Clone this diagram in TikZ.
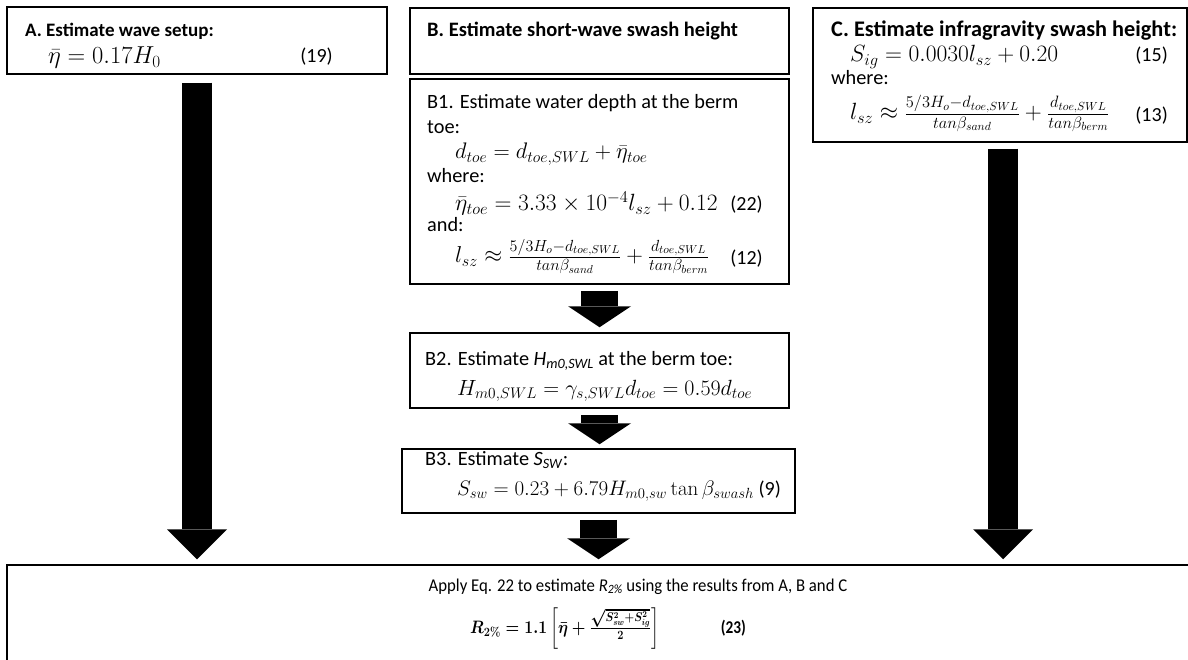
\RequirePackage{fix-cm}
\documentclass[tikz,border=0pt]{standalone}
\usepackage{amsmath}
\usepackage{graphicx}
\usepackage[no-math]{fontspec}
\setmainfont{Carlito}
\usetikzlibrary{arrows.meta,calc}
\newcommand{\fsz}[1]{\fontsize{#1}{#1}\selectfont}
\tikzset{
  box/.style={draw, line width=1.5pt, inner sep=0pt},
  txt/.style={anchor=base west, inner sep=0pt, font=\fsz{20.3}},
  eq/.style={anchor=base west, inner sep=0pt},
  eqno/.style={anchor=base east, inner sep=0pt, font=\fsz{20}},
  bigarrow/.style={line width=30pt, -{Triangle[width=60pt,length=30pt,line width=0pt]}},
  midarrow/.style={line width=37pt, -{Triangle[width=63pt,length=21pt,line width=0pt]}},
}
\begin{document}
\begin{tikzpicture}[x=1pt,y=-1pt]
\useasboundingbox (0,0) rectangle (1188,660);

% boxes
\node[box, minimum width=380pt, minimum height=67pt] (A) at (197,40.5) {};
\node[box, minimum width=379pt, minimum height=66pt] (B) at (599.5,41) {};
\node[box, minimum width=379pt, minimum height=205pt] (B1) at (599.5,181.5) {};
\node[box, minimum width=379pt, minimum height=75pt] (B2) at (599.5,370.5) {};
\node[box, minimum width=393pt, minimum height=64pt] (B3) at (598.5,481) {};
\node[box, minimum width=374pt, minimum height=134pt] (C) at (1000,75) {};
\node[box, minimum width=1188pt, minimum height=103pt] (F) at (601,616.5) {};

% box A
\node[txt, font=\fsz{19}] (ta) at (25,37) {\textbf{A. Estimate wave setup:}};
\node[eq, font=\fsz{24.5}] (ea) at (48,64) {$\bar{\eta} = 0.17H_0$};
\node[eqno] (na) at (333,63) {(19)};

% box B
\node[txt, font=\fsz{20.5}] (tb) at (427,37) {\textbf{B. Estimate short-wave swash height}};

% box B1
\node[txt] (tb1) at (427,109) {B1. Estimate water depth at the berm};
\node[txt] (tb1b) at (427,134) {toe:};
\node[eq, font=\fsz{22.5}] (eb1a) at (455,159) {$d_{toe} = d_{toe,SWL} + \bar{\eta}_{toe}$};
\node[txt] (tb1c) at (427,183) {where:};
\node[eq, font=\fsz{23.5}] (eb1b) at (455,211) {$\bar{\eta}_{toe} = 3.33\times 10^{-4} l_{sz} + 0.12$};
\node[eqno] (nb1b) at (763,211) {(22)};
\node[txt] (tb1d) at (427,232) {and:};
\node[eq, font=\fsz{23}] (eb1c) at (455,263) {$l_{sz} \approx \frac{5/3H_o - d_{toe,SWL}}{tan\beta_{sand}} + \frac{d_{toe,SWL}}{tan\beta_{berm}}$};
\node[eqno] (nb1c) at (763,265) {(12)};

% box B2
\node[txt] (tb2) at (425,365) {B2. Estimate \textit{H}\textsubscript{\textit{m0,SWL}} at the berm toe:};
\node[eq, font=\fsz{22}] (eb2) at (457,395) {$H_{m0,SWL} = \gamma_{s,SWL}d_{toe} = 0.59d_{toe}$};

% box B3
\node[txt] (tb3) at (425,465) {B3. Estimate \textit{S}\textsubscript{\textit{SW}}:};
\node[eq, font=\fsz{21}] (eb3) at (457,495) {$S_{sw} = 0.23 + 6.79H_{m0,sw}\tan\beta_{swash}$\fsz{20}\ (9)};

% box C
\node[txt, font=\fsz{22.3}] (tc) at (831,37) {\textbf{C. Estimate infragravity swash height:}};
\node[eq, font=\fsz{23.5}] (ec1) at (850,62) {$S_{ig} = 0.0030l_{sz} + 0.20$};
\node[eqno] (nc1) at (1168,62) {(15)};
\node[txt] (tc2) at (831,85) {where:};
\node[eq, font=\fsz{23.5}] (ec2) at (850,120) {$l_{sz} \approx \frac{5/3H_o - d_{toe,SWL}}{tan\beta_{sand}} + \frac{d_{toe,SWL}}{tan\beta_{berm}}$};
\node[eqno] (nc2) at (1168,122) {(13)};

% final box
\node[anchor=base, inner sep=0pt, font=\fsz{18}] (tf) at (638,591)
  {\scalebox{0.93}[1]{Apply Eq. 22 to estimate \textit{R}\textsubscript{\textit{2\%}} using the results from A, B and C}};
\node[anchor=base west, inner sep=0pt, font=\fsz{18}] (ef) at (470,633)
  {\scalebox{0.87}[1]{\boldmath$R_{2\%} = 1.1\left[\bar{\eta} + \frac{\sqrt{S_{sw}^2+S_{ig}^2}}{2}\right]$}};
\node[anchor=base east, inner sep=0pt, font=\fsz{18}] (nf) at (746,633)
  {\scalebox{0.85}[1]{\textbf{(23)}}};

% arrows
\draw[bigarrow] ([yshift=-8pt]A.south) -- ([yshift=5pt]A.south |- F.north);
\draw[bigarrow] ([xshift=3pt,yshift=-6pt]C.south) -- ([xshift=3pt,yshift=5pt]C.south |- F.north);
\draw[midarrow] ([yshift=-6pt]B1.south) -- ([yshift=5pt]B2.north);
\draw[midarrow] ([yshift=-6pt]B2.south) -- ([yshift=4pt]B2.south |- B3.north);
\draw[midarrow] ([yshift=-6pt]B3.south) -- ([yshift=5pt]B3.south |- F.north);
\end{tikzpicture}
\end{document}
